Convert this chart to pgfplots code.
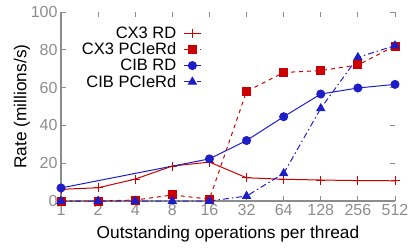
\documentclass[border=0pt]{standalone}
\usepackage{pgfplots}
\pgfplotsset{compat=1.18}
\usepackage{fontspec}
\setmainfont{Liberation Sans}
\definecolor{myred}{RGB}{204,0,0}
\definecolor{myblue}{RGB}{30,30,200}
\definecolor{tickgray}{RGB}{140,140,140}
\begin{document}
\begin{tikzpicture}
\begin{axis}[
  name=ax,
  scale only axis,
  width=334pt, height=189pt,
  xmin=0, xmax=9, ymin=0, ymax=100,
  xtick={0,...,9},
  xticklabels={1,2,4,8,16,32,64,128,256,512},
  ytick={0,20,40,60,80,100},
  tick align=inside,
  major tick length=5pt,
  tick style={tickgray, line width=0.8pt},
  axis line style={draw=none},
  ticklabel style={font=\fontsize{16}{16}\selectfont, text=tickgray},
  /pgf/number format/assume math mode=true,
  xlabel={Outstanding operations per thread},
  ylabel={Rate (millions/s)},
  label style={font=\fontsize{17.3}{17.3}\selectfont},
  xlabel style={yshift=-3pt},
  ylabel style={yshift=-6pt},
  clip=false,
  legend style={draw=none, fill=none, at={(0.43,0.945)}, anchor=north east,
    font=\fontsize{16.5}{16.5}\selectfont, row sep=-1pt, column sep=5pt},
  legend cell align=right,
  legend plot pos=right,
]
\draw[tickgray, line width=1.2pt] (rel axis cs:0,1) -- (rel axis cs:0,0) -- (rel axis cs:1,0);
\addplot[myred, line width=1pt, mark=+, mark size=4.5pt, mark options={solid, line width=1pt}]
  coordinates {(0,6.2) (1,7) (2,11.6) (3,18.5) (4,20.6) (5,12.3) (6,11.5) (7,11.1) (8,10.8) (9,10.7)};
\addlegendentry{CX3 RD}
\addplot[myred, line width=1pt, dash pattern=on 4pt off 4pt, mark=square*, mark size=4pt, mark options={solid, fill=myred}]
  coordinates {(0,0) (1,0) (2,0.5) (3,3.2) (4,1) (5,58) (6,68) (7,69) (8,72) (9,82)};
\addlegendentry{CX3 PCIeRd}
\addplot[myblue, line width=1pt, mark=*, mark size=4pt, mark options={solid, fill=myblue}]
  coordinates {(0,6.9) (4,22.3) (5,32) (6,44.6) (7,56.6) (8,59.8) (9,61.7)};
\addlegendentry{CIB RD}
\addplot[myblue, line width=1pt, dash pattern=on 6pt off 3pt on 1.5pt off 3pt, mark=triangle*, mark size=4.5pt, mark options={solid, fill=myblue}]
  coordinates {(0,0) (1,0) (2,0) (3,0) (4,0) (5,2.6) (6,14.6) (7,49) (8,76) (9,82.2)};
\addlegendentry{CIB PCIeRd}
\end{axis}
\pgfresetboundingbox
\path (-61pt,-49pt) rectangle (348pt,201pt);
\end{tikzpicture}
\end{document}
